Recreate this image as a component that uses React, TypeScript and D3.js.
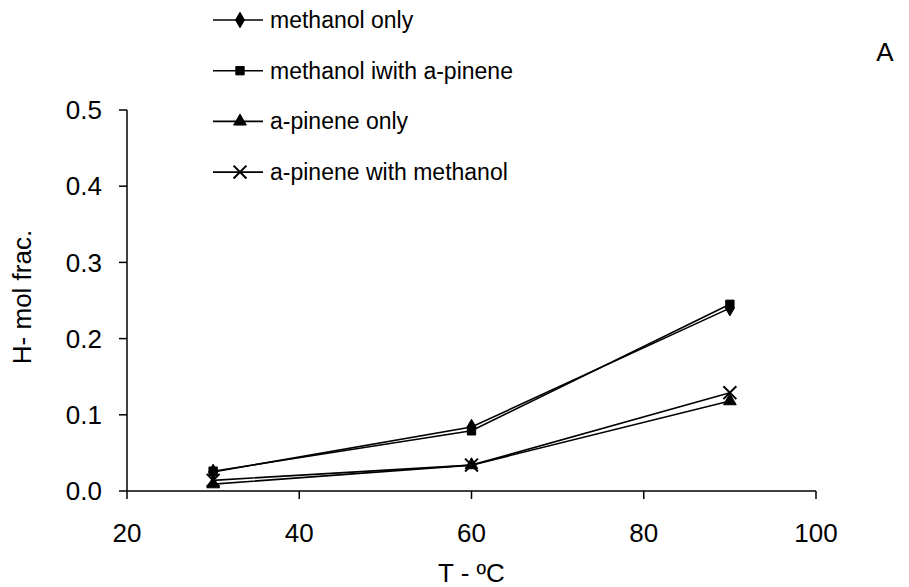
import * as d3 from "d3"

const temps = [30, 60, 90]
const seriesNames = [
  "methanol only",
  "methanol iwith a-pinene",
  "a-pinene only",
  "a-pinene with methanol",
]
const methanolOnly = [0.025, 0.084, 0.24]
const methanolWithPinene = [0.026, 0.079, 0.245]
const pineneOnly = [0.009, 0.034, 0.118]
const pineneWithMethanol = [0.014, 0.034, 0.129]
const xTicks = [20, 40, 60, 80, 100]
const yTicks = [0, 0.1, 0.2, 0.3, 0.4, 0.5]

const allSeries = [methanolOnly, methanolWithPinene, pineneOnly, pineneWithMethanol]
const symbols = [d3.symbolDiamond, d3.symbolSquare, d3.symbolTriangle, d3.symbolX]
const symbolSizes = [70, 70, 70, 110]

export default function App() {
  const width = 909
  const height = 587
  const margin = { top: 110, right: 93, bottom: 96, left: 127 }
  const font = "Arial, 'Liberation Sans', sans-serif"

  const x = d3.scaleLinear()
    .domain([20, 100])
    .range([margin.left, width - margin.right])

  const y = d3.scaleLinear()
    .domain([0, 0.5])
    .range([height - margin.bottom, margin.top])

  const line = d3.line<number>()
    .x((_, i) => x(temps[i]))
    .y(d => y(d))

  const x0 = x(20)
  const y0 = y(0)

  return (
    <div style={{ position: "absolute", left: 0, top: 0 }}>
      <svg width={width} height={height} style={{ display: "block", background: "#fff" }}>
        {/* axes */}
        <g stroke="#000" strokeWidth={1.5} fill="none">
          <line x1={x0} x2={x(100)} y1={y0} y2={y0} />
          <line x1={x0} x2={x0} y1={y0} y2={y(0.5)} />
          {xTicks.map(t => (
            <line key={"xt" + t} x1={x(t)} x2={x(t)} y1={y0} y2={y0 + 8} />
          ))}
          {yTicks.map(t => (
            <line key={"yt" + t} x1={x0 - 8} x2={x0} y1={y(t)} y2={y(t)} />
          ))}
        </g>

        <g fontFamily={font} fontSize={26} fill="#000">
          {xTicks.map(t => (
            <text key={"xl" + t} x={x(t)} y={y0 + 51} textAnchor="middle">{t}</text>
          ))}
          {yTicks.map(t => (
            <text key={"yl" + t} x={x0 - 25} y={y(t)} dy="0.35em" textAnchor="end">{t.toFixed(1)}</text>
          ))}
          <text x={(x0 + x(100)) / 2} y={582} textAnchor="middle">T - ºC</text>
          <text transform={`translate(31,297) rotate(-90)`} textAnchor="middle">H- mol frac.</text>
          <text x={885} y={61} textAnchor="middle">A</text>
        </g>

        {/* series */}
        {allSeries.map((s, i) => (
          <g key={"s" + i}>
            <path d={line(s)!} fill="none" stroke="#000" strokeWidth={1.6} />
            {s.map((v, j) => (
              <path
                key={j}
                transform={`translate(${x(temps[j])},${y(v)})`}
                d={d3.symbol(symbols[i], symbolSizes[i])()!}
                fill={i === 3 ? "none" : "#000"}
                stroke="#000"
                strokeWidth={i === 3 ? 2 : 1}
              />
            ))}
          </g>
        ))}

        {/* legend */}
        <g fontFamily={font} fontSize={23} fill="#000">
          {seriesNames.map((name, i) => {
            const ly = 20 + i * 50.7
            return (
              <g key={"lg" + i} transform={`translate(213,${ly})`}>
                <line x1={0} x2={50} y1={0} y2={0} stroke="#000" strokeWidth={1.6} />
                <path
                  transform="translate(27,0)"
                  d={d3.symbol(symbols[i], symbolSizes[i])()!}
                  fill={i === 3 ? "none" : "#000"}
                  stroke="#000"
                  strokeWidth={i === 3 ? 2 : 1}
                />
                <text x={57} y={0} dy="0.35em">{name}</text>
              </g>
            )
          })}
        </g>
      </svg>
    </div>
  )
}
